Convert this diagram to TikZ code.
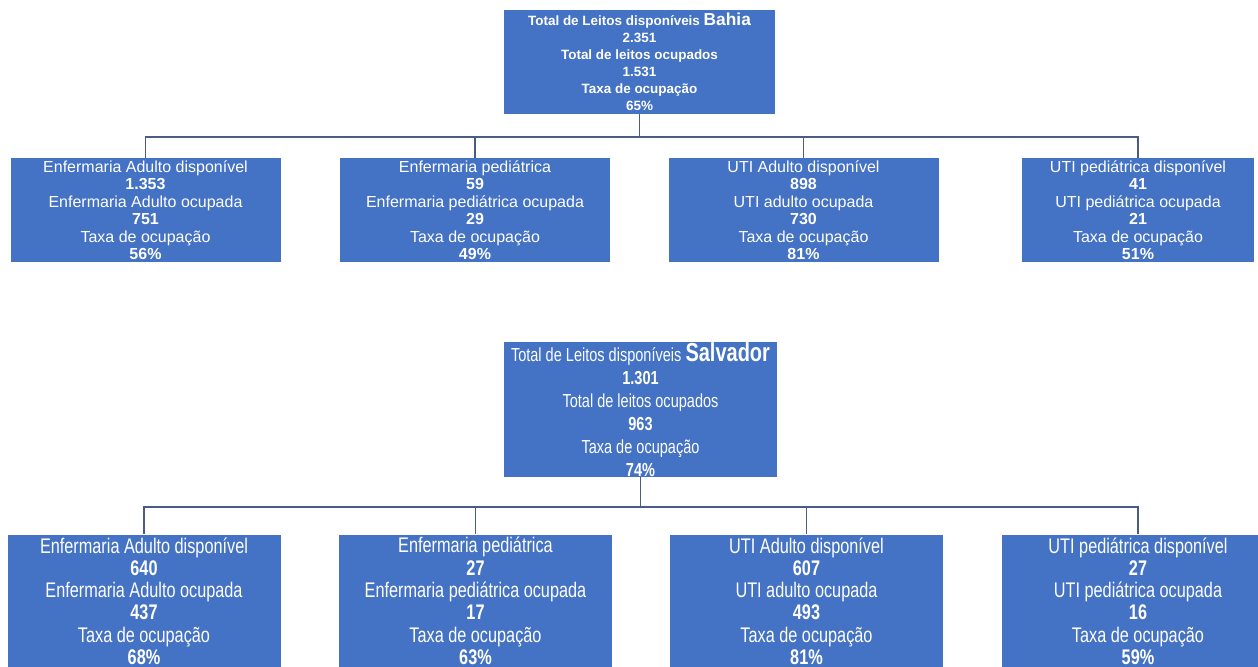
\documentclass[tikz,border=0pt]{standalone}
\usepackage{fontspec}
\setmainfont{Liberation Sans}
\usetikzlibrary{positioning,calc}
\definecolor{AzulCaixa}{HTML}{4472C4}
\definecolor{LinhaLigacao}{HTML}{4A5D80}

\begin{document}
\begin{tikzpicture}[
  x=0.75pt, y=-0.75pt,
  caixa/.style={rectangle, fill=AzulCaixa, text=white, align=center, inner sep=0pt},
  raizbahia/.style={caixa, minimum width=203.25pt, minimum height=78pt, font=\fontsize{10.1}{12.75}\selectfont\bfseries},
  filhobahia/.style={caixa, minimum width=202.5pt, minimum height=78pt, font=\fontsize{12}{13.1}\selectfont},
  raizssa/.style={caixa, minimum width=204.75pt, minimum height=77.9pt, yscale=1.3, transform shape, font=\fontsize{10.9}{13.3}\selectfont},
  filhossa/.style={caixa, minimum width=204.75pt, minimum height=76.5pt, yscale=1.3, transform shape, font=\fontsize{12.2}{12.85}\selectfont},
  ligacao/.style={draw=LinhaLigacao, line width=0.9pt}
]
\useasboundingbox (0,0) rectangle (1258,667);

% Bahia (top)
\node[raizbahia] (bahia) at (639.5,62) {Total de Leitos disponíveis {\fontsize{13}{12.75}\selectfont Bahia}\\2.351\\Total de leitos ocupados\\1.531\\Taxa de ocupação\\65\%};
\coordinate (barraA) at (0,137);

\node[filhobahia] (a1) at (145.5,210) {Enfermaria Adulto disponível\\\textbf{1.353}\\Enfermaria Adulto ocupada\\\textbf{751}\\Taxa de ocupação\\\textbf{56\%}};
\node[filhobahia] (a2) at (475,210) {Enfermaria pediátrica\\\textbf{59}\\Enfermaria pediátrica ocupada\\\textbf{29}\\Taxa de ocupação\\\textbf{49\%}};
\node[filhobahia] (a3) at (803.5,210) {UTI Adulto disponível\\\textbf{898}\\UTI adulto ocupada\\\textbf{730}\\Taxa de ocupação\\\textbf{81\%}};
\node[filhobahia, minimum width=174pt] (a4) at (1138,210) {UTI pediátrica disponível\\\textbf{41}\\UTI pediátrica ocupada\\\textbf{21}\\Taxa de ocupação\\\textbf{51\%}};

\foreach \c in {a1,a2,a3,a4} {
  \draw[ligacao] (bahia.south) -- (bahia.south |- barraA) -| (\c.north);
}

% Salvador (bottom)
\node[raizssa] (ssa) at (640.5,409.5) {Total de Leitos disponíveis {\fontsize{15}{13.3}\selectfont\bfseries Salvador}\\\textbf{1.301}\\Total de leitos ocupados\\\textbf{963}\\Taxa de ocupação\\\textbf{74\%}};
\coordinate (barraB) at (0,507);

\node[filhossa] (b1) at (144,601) {Enfermaria Adulto disponível\\\textbf{640}\\Enfermaria Adulto ocupada\\\textbf{437}\\Taxa de ocupação\\\textbf{68\%}};
\node[filhossa] (b2) at (475.5,601) {Enfermaria pediátrica\\\textbf{27}\\Enfermaria pediátrica ocupada\\\textbf{17}\\Taxa de ocupação\\\textbf{63\%}};
\node[filhossa] (b3) at (806.5,601) {UTI Adulto disponível\\\textbf{607}\\UTI adulto ocupada\\\textbf{493}\\Taxa de ocupação\\\textbf{81\%}};
\node[filhossa] (b4) at (1138,601) {UTI pediátrica disponível\\\textbf{27}\\UTI pediátrica ocupada\\\textbf{16}\\Taxa de ocupação\\\textbf{59\%}};

\foreach \c in {b1,b2,b3,b4} {
  \draw[ligacao] (ssa.south) -- (ssa.south |- barraB) -| (\c.north);
}

\end{tikzpicture}
\end{document}
